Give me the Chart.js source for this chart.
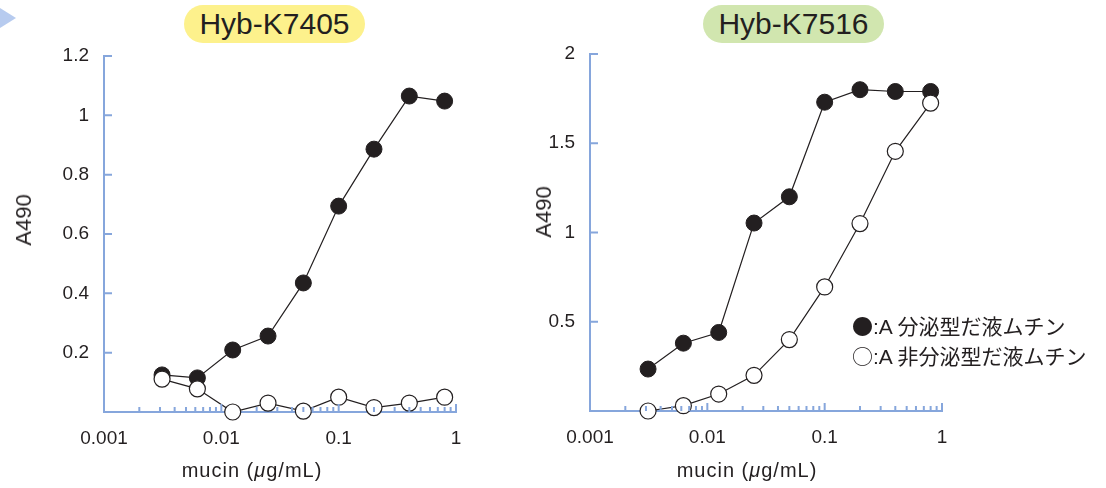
<!DOCTYPE html>
<html>
<head>
<meta charset="utf-8">
<script src="https://cdn.jsdelivr.net/npm/chart.js@4.4.1/dist/chart.umd.min.js"></script>
<style>
  body { margin: 0; background: #fff; width: 1106px; height: 488px; overflow: hidden; position: relative;
         font-family: "Liberation Sans", Arial, sans-serif; color: #222; }
  canvas { position: absolute; top: 0; }
  .pill { position: absolute; top: 5px; height: 38px; width: 181px; border-radius: 19px; text-align: center;
          font-size: 30px; line-height: 38px; color: #231f20; }
  .ylab { position: absolute; font-size: 22px; transform: translate(-50%, -50%) rotate(-90deg); white-space: nowrap; color: #231f20; }
  .xlab { position: absolute; font-size: 20px; letter-spacing: 1px; white-space: nowrap; transform: translateX(-50%); color: #231f20; }
  .legend { position: absolute; left: 852px; top: 310px; font-size: 21px; line-height: 28px; white-space: nowrap;
            font-family: "Liberation Sans", "Noto Sans CJK JP", sans-serif; color: #231f20; }
  .legend .cjk { font-family: "Noto Sans CJK JP", sans-serif; }
  .tri { position: absolute; left: 0; top: 8px; width: 0; height: 0;
         border-top: 10px solid transparent; border-bottom: 10px solid transparent; border-left: 16px solid #b7cbef; }
</style>
</head>
<body>
<div class="tri"></div>
<div class="pill" style="left:184px;background:#fdf18c;">Hyb-K7405</div>
<div class="pill" style="left:703px;background:#d1e6af;">Hyb-K7516</div>
<canvas id="c1" width="553" height="488" style="left:0;width:553px;height:488px"></canvas>
<canvas id="c2" width="553" height="488" style="left:486px;width:553px;height:488px"></canvas>
<div class="ylab" style="left:24px;top:220px;">A490</div>
<div class="ylab" style="left:544px;top:212px;">A490</div>
<div class="xlab" style="left:252px;top:459px;">mucin (<i>μ</i>g/mL)</div>
<div class="xlab" style="left:747px;top:459px;">mucin (<i>μ</i>g/mL)</div>
<div class="legend" style="top:311px;"><span class="cjk">●</span>:A <span class="cjk">分泌型だ液ムチン</span><br><span class="cjk">○</span>:A <span class="cjk">非分泌型だ液ムチン</span></div>
<script>
// mucin concentrations (ug/mL), two-fold dilution series
const mucin = [0.003125, 0.00625, 0.0125, 0.025, 0.05, 0.1, 0.2, 0.4, 0.8];

// Hyb-K7405
const k7405Secretor = [0.125, 0.115, 0.209, 0.256, 0.435, 0.694, 0.886, 1.065, 1.048];
const k7405NonSecretor = [0.111, 0.078, 0.0, 0.030, 0.003, 0.050, 0.015, 0.030, 0.050];

// Hyb-K7516
const k7516Secretor = [0.235, 0.38, 0.44, 1.053, 1.20, 1.73, 1.80, 1.79, 1.79];
const k7516NonSecretor = [0.0, 0.03, 0.095, 0.20, 0.40, 0.695, 1.05, 1.455, 1.725];

const xTickLabels = ['0.001', '0.01', '0.1', '1'];
const leftYTicks = [0.2, 0.4, 0.6, 0.8, 1, 1.2];
const rightYTicks = [0.5, 1, 1.5, 2];

const axisColor = '#86a6dc';

// x ticks: decades plus 2..9 minors
const xTicks = [];
for (let e = -3; e <= 0; e++) {
  for (let m = 1; m <= 9; m++) {
    const v = m * Math.pow(10, e);
    if (v <= 1.0000001) xTicks.push(Number(v.toPrecision(3)));
  }
}

// draws inward ticks on both axes
const innerTicks = {
  id: 'innerTicks',
  afterDraw(chart, args, opts) {
    const ctx = chart.ctx;
    const x = chart.scales.x, y = chart.scales.y;
    const area = chart.chartArea;
    ctx.save();
    ctx.strokeStyle = axisColor;
    ctx.lineWidth = 2;
    ctx.beginPath();
    xTicks.forEach(v => {
      const px = x.getPixelForValue(v);
      const major = xTickLabels.includes(String(v));
      if (v === 0.001) return;
      ctx.moveTo(px, area.bottom);
      ctx.lineTo(px, area.bottom - (major ? 8 : 5));
    });
    opts.yTicks.forEach(v => {
      const py = y.getPixelForValue(v);
      ctx.moveTo(area.left, py);
      ctx.lineTo(area.left + 8, py);
    });
    ctx.stroke();
    ctx.restore();
  }
};

function makeChart(id, secretor, nonSecretor, yMax, yTicks, padTop, padBottom) {
  const points = arr => arr.map((v, i) => ({ x: mucin[i], y: v }));
  return new Chart(document.getElementById(id), {
    type: 'line',
    data: {
      datasets: [
        {
          data: points(nonSecretor),
          borderColor: '#231f20', borderWidth: 1.2,
          pointRadius: 8, pointBackgroundColor: '#fff', pointBorderColor: '#231f20', pointBorderWidth: 1.2,
          clip: false, tension: 0
        },
        {
          data: points(secretor),
          borderColor: '#231f20', borderWidth: 1.2,
          pointRadius: 8, pointBackgroundColor: '#231f20', pointBorderColor: '#231f20', pointBorderWidth: 1,
          clip: false, tension: 0
        }
      ]
    },
    options: {
      responsive: false,
      animation: false,
      devicePixelRatio: 1,
      layout: { padding: { top: padTop, right: 97, bottom: padBottom, left: 0 } },
      plugins: { legend: { display: false }, tooltip: { enabled: false }, innerTicks: { yTicks: yTicks } },
      scales: {
        x: {
          type: 'logarithmic', min: 0.001, max: 1,
          afterBuildTicks: s => { s.ticks = xTicks.map(v => ({ value: v })); },
          afterFit: s => { s.height = 40; },
          grid: { display: false, drawTicks: false },
          border: { color: axisColor, width: 2 },
          ticks: {
            autoSkip: false, maxRotation: 0, padding: 15, color: '#231f20',
            font: { size: 19, family: '"Liberation Sans", Arial, sans-serif' },
            callback: v => { const s = String(Number(v.toPrecision(3))); return xTickLabels.includes(s) ? s : ''; }
          }
        },
        y: {
          min: 0, max: yMax,
          afterBuildTicks: s => { s.ticks = yTicks.map(v => ({ value: v })); },
          afterFit: s => { s.width = 104; },
          grid: { display: false, drawTicks: false },
          border: { color: axisColor, width: 2 },
          ticks: {
            padding: 15, color: '#231f20',
            font: { size: 19, family: '"Liberation Sans", Arial, sans-serif' },
            callback: v => String(Number(v.toFixed(2)))
          }
        }
      }
    },
    plugins: [innerTicks]
  });
}

makeChart('c1', k7405Secretor, k7405NonSecretor, 1.2, leftYTicks, 56, 36);
makeChart('c2', k7516Secretor, k7516NonSecretor, 2, rightYTicks, 54, 37);
</script>
</body>
</html>
